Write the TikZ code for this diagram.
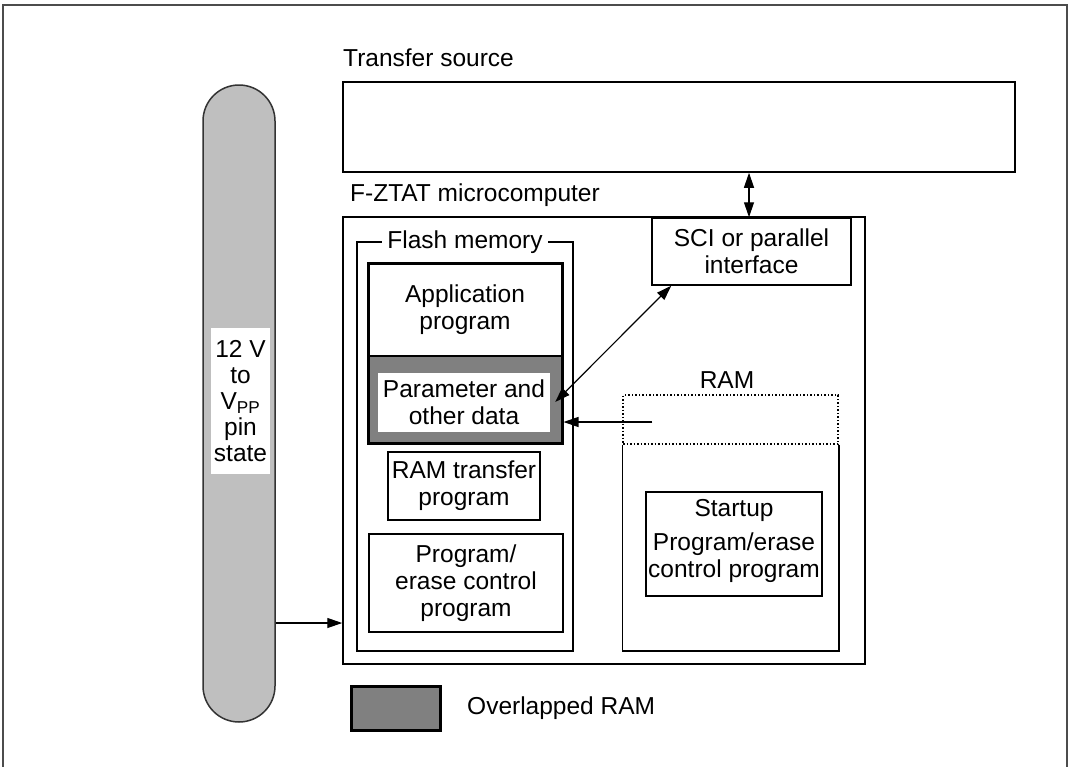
\documentclass[tikz,border=0pt]{standalone}
\usepackage{fontspec}
\setmainfont{Liberation Sans}
\usetikzlibrary{arrows.meta,calc}
\begin{document}
\begin{tikzpicture}[x=1pt,y=-1pt,
  every node/.style={font=\fontsize{24.5}{27}\selectfont},
  box/.style={draw=black, line width=1.5pt, inner sep=0pt, align=center},
  thickbox/.style={draw=black, line width=3pt, inner sep=0pt},
  lbl/.style={inner sep=0pt},
  arr/.style={line width=1.2pt, -{Triangle[length=15pt,width=10pt]}},
  dblarr/.style={line width=1.2pt, {Triangle[length=15pt,width=10pt]}-{Triangle[length=15pt,width=10pt]}}]
\useasboundingbox (0,0) rectangle (1071,766);
% outer frame
\draw[black!70, line width=1.5pt] (3,770) -- (3,5) -- (1067,5) -- (1067,770);

% pill
\node[draw=black!80, line width=1.5pt, fill=black!25, rounded corners=36pt, minimum width=72pt, minimum height=637pt, inner sep=0pt] (pill) at (239,403.5) {};
\node[fill=white, minimum width=59pt, minimum height=146pt, inner sep=0pt, align=center, font=\fontsize{24.5}{26}\selectfont] (pilltxt) at (240.5,401) {12 V\\to\\V\textsubscript{PP}\\pin\\state};

% transfer source
\node[lbl, anchor=west] (tslbl) at (343,58) {Transfer source};
\node[box, minimum width=672pt, minimum height=90pt] (transfer) at (679,127) {};

% microcomputer
\node[lbl, anchor=west] (mclbl) at (350,195) {F-ZTAT microcomputer};
\node[box, minimum width=522pt, minimum height=447pt] (micro) at (604,440.5) {};

% flash memory
\node[box, minimum width=216pt, minimum height=409pt] (flash) at (465,446.5) {};
\node[fill=white, inner xsep=5pt, inner ysep=0pt] (flashlbl) at (465,242) {Flash memory};

% application / parameter
\node[fill=black!50, minimum width=194pt, minimum height=87pt, inner sep=0pt] (paramarea) at (465,399.5) {};
\node[draw=black, line width=1.5pt, minimum width=194pt, minimum height=93pt, inner sep=0pt, align=center] (app) at (465,309.5) {Application\\program};
\node[thickbox, minimum width=194pt, minimum height=180pt] (flashblk) at (465,353) {};
\node[fill=white, minimum width=172pt, minimum height=59pt, inner sep=0pt, align=center] (pw) at (464,402.5) {Parameter and\\other data};

% RAM transfer program
\node[box, minimum width=152pt, minimum height=68pt] (ramtp) at (464,486) {RAM transfer\\program};
% program/erase
\node[box, minimum width=194pt, minimum height=98pt] (pe) at (466,583) {Program/\\erase control\\program};

% SCI
\node[box, fill=white, minimum width=199pt, minimum height=67pt] (sci) at (751.5,251.5) {SCI or parallel\\interface};

% RAM
\node[lbl] (ramlbl) at (727,380) {RAM};
\node[draw=black, dotted, line width=1.5pt, minimum width=215pt, minimum height=49pt, inner sep=0pt] (ramd) at (730.5,419.5) {};
\draw[line width=1.5pt] (ramd.south west) -- (ramd.south west |- 0,651) coordinate (rambl) -- (ramd.south east |- 0,651) -- (ramd.south east);
\node[box, minimum width=176pt, minimum height=104pt] (startup) at (734,544) {};
\node[lbl, align=center] (startuptxt) at (734,541) {Startup\\[7pt]Program/erase\\control program};

% arrows
\draw[dblarr] (sci.north |- transfer.south) ++(-2.5,0) coordinate (ta) -- (ta |- sci.north);
\draw[dblarr] ([xshift=20pt]sci.south west) -- ([xshift=5pt,yshift=0.5pt]pw.east);
\coordinate (ramsrc) at ([xshift=30pt,yshift=-2.5pt]ramd.west);
\draw[arr] (ramsrc) -- (ramsrc -| flashblk.east);
\coordinate (vpy) at (0,623);
\draw[arr] (pill.east |- vpy) -- (micro.west |- vpy);

% legend
\node[thickbox, fill=black!50, minimum width=89pt, minimum height=44pt] (legend) at (395.5,708) {};
\node[lbl, anchor=west] (legendlbl) at (467,708) {Overlapped RAM};
\end{tikzpicture}
\end{document}
